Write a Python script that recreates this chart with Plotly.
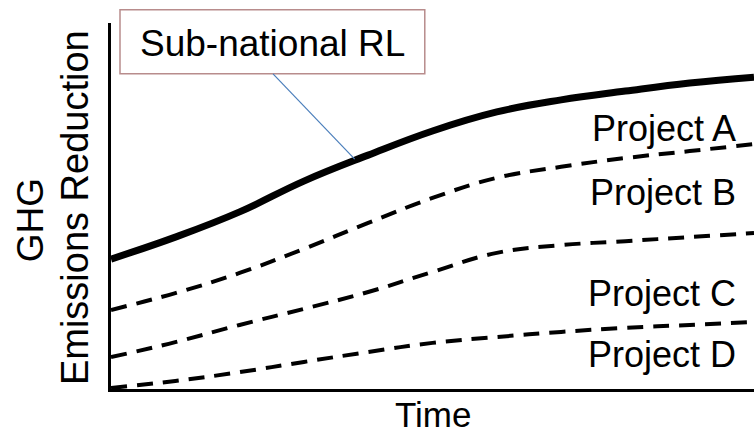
import plotly.graph_objects as go
import numpy as np

# ---- data (arbitrary units) ----
time = [0, 10, 20, 30, 40, 50, 60, 70, 80, 90, 100]
rl = [35.5, 41.5, 48.4, 56.8, 63.9, 70.5, 75.7, 79.0, 81.4, 83.6, 85.2]
proj_a = [21.6, 26.2, 31.7, 38.3, 45.4, 52.2, 57.7, 60.7, 63.1, 65.0, 66.9]
proj_b = [8.7, 12.8, 17.5, 21.9, 26.5, 32.0, 37.2, 39.3, 40.4, 41.5, 42.6]
proj_c = [0.3, 2.2, 4.6, 7.4, 10.1, 12.6, 14.2, 15.6, 16.7, 17.5, 18.3]

project_labels = ["Project A", "Project B", "Project C", "Project D"]
label_y = [71.3, 53.8, 26.0, 9.3]
label_x = 97.5

rl_label = "Sub-national RL"
rl_pointer_t = 37.9
x_title = "Time"
y_title_lines = ["GHG", "Emissions Reduction"]

FONT = "Arial, 'Liberation Sans', sans-serif"

fig = go.Figure()
fig.add_trace(go.Scatter(x=time, y=rl, mode="lines",
                         line=dict(color="black", width=7, shape="spline", smoothing=1.2),
                         showlegend=False, hoverinfo="skip"))
for ser in (proj_a, proj_b, proj_c):
    fig.add_trace(go.Scatter(x=time, y=ser, mode="lines",
                             line=dict(color="black", width=4, shape="spline", smoothing=1.2,
                                       dash="16px,10px"),
                             showlegend=False, hoverinfo="skip"))

ann = []
for lab, yv in zip(project_labels, label_y):
    ann.append(dict(x=label_x, y=yv, xref="x", yref="y", text=lab, showarrow=False,
                    xanchor="right", yanchor="middle", font=dict(family=FONT, size=36, color="black")))

# RL callout box text
ann.append(dict(x=0.2505, y=0.945, xref="paper", yref="paper", text=rl_label, showarrow=False,
                xanchor="center", yanchor="middle", font=dict(family=FONT, size=37, color="black")))

# axis titles
ann.append(dict(x=0.5, y=-0.071, xref="paper", yref="paper", text=x_title, showarrow=False,
                xanchor="center", yanchor="middle", font=dict(family=FONT, size=35, color="black")))
ann.append(dict(x=-0.125, y=0.46, xref="paper", yref="paper", text=y_title_lines[0], showarrow=False,
                textangle=-90, xanchor="center", yanchor="middle", font=dict(family=FONT, size=37, color="black")))
ann.append(dict(x=-0.056, y=0.497, xref="paper", yref="paper", text=y_title_lines[1], showarrow=False,
                textangle=-90, xanchor="center", yanchor="middle", font=dict(family=FONT, size=38, color="black")))

rl_at = float(np.interp(rl_pointer_t, time, rl))

shapes = [
    dict(type="rect", xref="paper", yref="paper", x0=0.014, x1=0.488, y0=0.861, y1=1.036,
         line=dict(color="#b88c8c", width=1.5), fillcolor="white", layer="above"),
    dict(type="line", xref="paper", yref="paper", x0=0.2520, y0=0.861,
         x1=rl_pointer_t / 100, y1=rl_at / 100 + 0.004,
         line=dict(color="#4a7ebb", width=1.2)),
]

fig.update_layout(
    width=754, height=438,
    margin=dict(l=111, r=0, t=23, b=49),
    paper_bgcolor="white", plot_bgcolor="white",
    xaxis=dict(range=[0, 100], showline=True, linecolor="black", linewidth=3, showgrid=False,
               zeroline=False, showticklabels=False, ticks="", fixedrange=True),
    yaxis=dict(range=[0, 100], showline=True, linecolor="black", linewidth=3, showgrid=False,
               zeroline=False, showticklabels=False, ticks="", fixedrange=True),
    annotations=ann,
    shapes=shapes,
)

# remove the page's default body margin so the figure fills the window exactly
fig.write_html("out.html",
               config={"displayModeBar": False, "staticPlot": True},
               post_script="document.body.style.margin='0';document.body.style.overflow='hidden';")
